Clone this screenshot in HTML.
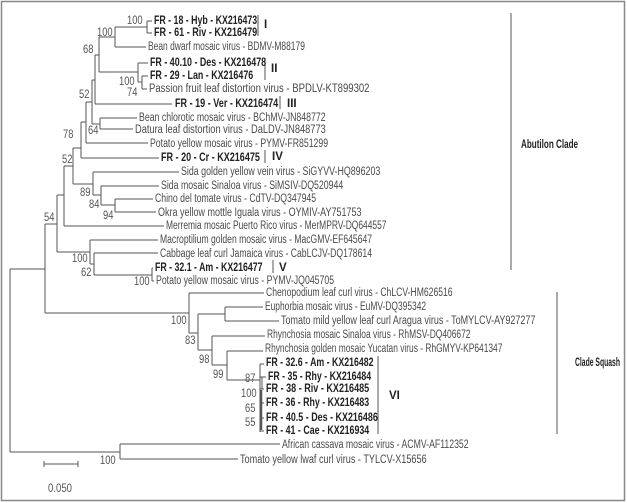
<!DOCTYPE html>
<html><head><meta charset="utf-8"><style>
html,body{margin:0;padding:0;background:#fff;}
svg{display:block;}
text{font-family:"Liberation Sans",sans-serif;}
.n{font-size:11.5px;fill:#4a4a4a;}
.b{font-size:11.5px;fill:#222;font-weight:bold;}
.s{font-size:11.5px;fill:#555;}
</style></head><body>
<svg id="s" width="627" height="503" viewBox="0 0 627 503" xmlns="http://www.w3.org/2000/svg">
<rect x="1.5" y="1.5" width="623" height="499" fill="#fff" stroke="#888" stroke-width="1.5"/>
<g id="lines" stroke="#555" stroke-width="1" fill="none"></g>
<g id="txt"></g>
</svg>
<script>
var L=[
[147,21,147,33],[147,21,152,21],[147,33,152,33],
[115,27,115,47],[115,27,147,27],[115,47,146,47],
[99,37,99,72],[99,37,115,37],
[138,63,138,82],[138,63,148,63],[138,82,142,82],[142,76,142,89],[142,76,148,76],[142,89,147,89],
[99,72,138,72],
[95,55,95,104],[95,55,99,55],[95,104,172,104],
[100,118,100,129],[100,118,137,118],[100,129,133,129],
[92,80,92,124],[92,80,95,80],[92,124,100,124],
[86,102,86,143],[86,102,92,102],[86,143,148,143],
[81,122,81,158],[81,122,86,122],[81,158,159,158],
[73,148,73,184],[73,148,81,148],
[93,172,93,195],[93,172,179,172],[73,184,93,184],
[101,186,101,205],[101,186,159,186],[93,195,101,195],
[115,199,115,212],[101,205,115,205],[115,199,153,199],[115,212,156,212],
[64,166,64,226],[64,166,73,166],[64,226,164,226],
[57,195,57,252],[57,195,64,195],
[90,240,90,264],[90,240,158,240],[57,252,90,252],
[94,253,94,275],[94,253,158,253],[90,264,94,264],[94,275,152,275],[152,268,152,281],[152,268,153,268],[152,281,154,281],
[45,224,45,313],[45,224,57,224],
[10,269,10,452],[10,269,45,269],[10,452,120,452],
[120,444,120,459],[120,444,280,444],[120,459,238,459],
[189,293,189,333],[189,293,264,293],[45,313,189,313],
[225,307,225,321],[225,307,263,307],[225,321,279,321],
[198,314,198,350],[189,333,198,333],[198,314,225,314],
[212,336,212,365],[212,336,265,336],[198,350,212,350],
[227,351,227,380],[227,351,263,351],[212,365,227,365],
[260,364,260,432],[227,380,260,380],[260,364,264,364],[260,377,266,377],[262,377,262,389],[260,389,264,389],[260,403,264,403],[260,418,264,418],[260,431,264,431],
[44,464,78,464],[44,461,44,467],[78,461,78,467],
[258,15,258,36],[265,58,265,80],[280,96,280,109],[265,150,265,163],[273,260,273,273],[378,356,378,434],
[511,13,511,270],[557,292,557,434]
];
var g=document.getElementById('lines'),h='';
L.forEach(function(a){h+='<line x1="'+a[0]+'" y1="'+a[1]+'" x2="'+a[2]+'" y2="'+a[3]+'"/>';});
h+='<line x1="261" y1="390" x2="261" y2="430" stroke-width="2.5"/>';
g.innerHTML=h;
var T=[
['b',154,24,'FR - 18 - Hyb - KX216473'],['b',154,36,'FR - 61 - Riv - KX216479'],
['n',148,50,'Bean dwarf mosaic virus - BDMV-M88179'],
['b',150,66,'FR - 40.10 - Des - KX216478'],['b',150,79,'FR - 29 - Lan - KX216476'],
['n',149,92,'Passion fruit leaf distortion virus - BPDLV-KT899302'],
['b',175,107,'FR - 19 - Ver - KX216474'],
['n',139,121,'Bean chlorotic mosaic virus - BChMV-JN848772'],
['n',135,133,'Datura leaf distortion virus - DaLDV-JN848773'],
['n',150,147,'Potato yellow mosaic virus - PYMV-FR851299'],
['b',161,161,'FR - 20 - Cr - KX216475'],
['n',181,175,'Sida golden yellow vein virus - SiGYVV-HQ896203'],
['n',161,189,'Sida mosaic Sinaloa virus - SiMSIV-DQ520944'],
['n',155,202,'Chino del tomate virus - CdTV-DQ347945'],
['n',158,216,'Okra yellow mottle Iguala virus - OYMIV-AY751753'],
['n',166,229,'Merremia mosaic Puerto Rico virus - MerMPRV-DQ644557'],
['n',160,243,'Macroptilium golden mosaic virus - MacGMV-EF645647'],
['n',160,257,'Cabbage leaf curl Jamaica virus - CabLCJV-DQ178614'],
['b',155,271,'FR - 32.1 - Am - KX216477'],
['n',156,284,'Potato yellow mosaic virus - PYMV-JQ045705'],
['n',266,296,'Chenopodium leaf curl virus - ChLCV-HM626516'],
['n',265,310,'Euphorbia mosaic virus - EuMV-DQ395342'],
['n',281,324,'Tomato mild yellow leaf curl Aragua virus - ToMYLCV-AY927277'],
['n',267,338,'Rhynchosia mosaic Sinaloa virus - RhMSV-DQ406672'],
['n',265,352,'Rhynchosia golden mosaic Yucatan virus - RhGMYV-KP641347'],
['b',266,366,'FR - 32.6 - Am - KX216482'],['b',268,380,'FR - 35 - Rhy - KX216484'],
['b',266,392,'FR - 38 - Riv - KX216485'],['b',266,406,'FR - 36 - Rhy - KX216483'],
['b',266,421,'FR - 40.5 - Des - KX216486'],['b',266,434,'FR - 41 - Cae - KX216934'],
['n',282,448,'African cassava mosaic virus - ACMV-AF112352'],
['n',240,463,'Tomato yellow lwaf curl virus - TYLCV-X15656']
];
var t=document.getElementById('txt'),s='';
T.forEach(function(a){var k=a[0]=='b'?4.3:4.24;s+='<text class="'+a[0]+'" x="'+a[1]+'" y="'+a[2]+'" textLength="'+(a[3].length*k).toFixed(1)+'" lengthAdjust="spacingAndGlyphs">'+a[3]+'</text>';});
var S=[[127,24,'100'],[97,36,'100'],[83,53,'68'],[119,85,'100'],[127,96,'74'],[79,98,'52'],[88,134,'64'],[63,138,'78'],[62,163,'52'],[80,196,'89'],[89,208,'84'],[103,219,'94'],[44,221,'54'],[72,262,'100'],[81,276,'62'],[134,285,'100'],[171,324,'100'],[185,344,'83'],[199,363,'98'],[213,378,'99'],[245,382,'87'],[241,397,'100'],[245,412,'65'],[245,426,'55'],[100,464,'100']];
S.forEach(function(a){s+='<text class="s" x="'+a[0]+'" y="'+a[1]+'" textLength="'+(a[2].length*5.2)+'" lengthAdjust="spacingAndGlyphs">'+a[2]+'</text>';});
s+='<text class="s" x="48" y="492" textLength="24" lengthAdjust="spacingAndGlyphs">0.050</text>';
var B=[[264,28,'I'],[271,72,'II'],[287,107,'III'],[272,160,'IV'],[279,271,'V'],[389,399,'VI']];
B.forEach(function(a){s+='<text class="b" x="'+a[0]+'" y="'+a[1]+'">'+a[2]+'</text>';});
s+='<text class="b" x="521" y="148" textLength="57" lengthAdjust="spacingAndGlyphs">Abutilon Clade</text>';
s+='<text class="b" x="575" y="366" textLength="45" lengthAdjust="spacingAndGlyphs">Clade Squash</text>';
t.innerHTML=s;
</script>
</body></html>
